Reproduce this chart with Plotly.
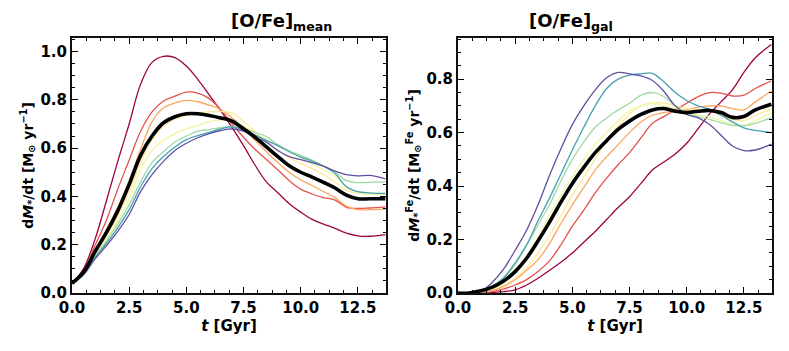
import plotly.graph_objects as go

# ---------------- data ----------------
t = [0, 0.5, 1, 1.5, 2, 2.5, 3, 3.5, 4, 4.5, 5, 5.5, 6, 6.5, 7, 7.5, 8, 8.5,
     9, 9.5, 10, 10.5, 11, 11.5, 12, 12.5, 13, 13.7]

colors = ["#9e0142", "#e2524a", "#fca55d", "#fee99a", "#edf8a3", "#a1d9a4", "#48a1b3", "#5e4fa2"]

# left panel: dM*/dt  ([O/Fe]_mean bins)
left_series = [
    [0.04, 0.10, 0.22, 0.38, 0.545, 0.70, 0.865, 0.955, 0.98, 0.975, 0.94, 0.885, 0.82, 0.755,
     0.685, 0.61, 0.53, 0.46, 0.415, 0.37, 0.335, 0.305, 0.285, 0.268, 0.248, 0.237, 0.235, 0.242],
    [0.04, 0.09, 0.195, 0.30, 0.43, 0.55, 0.67, 0.75, 0.795, 0.815, 0.832, 0.828, 0.805, 0.76,
     0.70, 0.645, 0.595, 0.553, 0.51, 0.465, 0.43, 0.41, 0.395, 0.385, 0.355, 0.35, 0.352, 0.357],
    [0.04, 0.085, 0.175, 0.26, 0.355, 0.465, 0.595, 0.71, 0.767, 0.787, 0.798, 0.792, 0.778, 0.76,
     0.725, 0.685, 0.632, 0.585, 0.54, 0.50, 0.468, 0.445, 0.42, 0.395, 0.36, 0.345, 0.345, 0.347],
    [0.04, 0.082, 0.16, 0.235, 0.32, 0.42, 0.54, 0.635, 0.69, 0.72, 0.735, 0.745, 0.75, 0.752,
     0.745, 0.71, 0.67, 0.625, 0.59, 0.56, 0.537, 0.515, 0.49, 0.46, 0.425, 0.413, 0.41, 0.41],
    [0.04, 0.08, 0.155, 0.225, 0.30, 0.39, 0.51, 0.59, 0.632, 0.66, 0.68, 0.695, 0.71, 0.717,
     0.715, 0.69, 0.665, 0.635, 0.61, 0.585, 0.56, 0.535, 0.51, 0.485, 0.44, 0.415, 0.41, 0.41],
    [0.04, 0.078, 0.15, 0.215, 0.285, 0.365, 0.46, 0.54, 0.585, 0.625, 0.65, 0.67, 0.677, 0.685,
     0.69, 0.68, 0.665, 0.648, 0.615, 0.59, 0.57, 0.55, 0.525, 0.50, 0.465, 0.457, 0.458, 0.46],
    [0.04, 0.077, 0.145, 0.205, 0.27, 0.345, 0.44, 0.515, 0.565, 0.605, 0.635, 0.652, 0.665, 0.68,
     0.688, 0.675, 0.655, 0.632, 0.61, 0.585, 0.563, 0.545, 0.525, 0.495, 0.44, 0.42, 0.415, 0.412],
    [0.04, 0.075, 0.14, 0.195, 0.255, 0.325, 0.42, 0.49, 0.545, 0.59, 0.62, 0.643, 0.66, 0.673,
     0.68, 0.67, 0.645, 0.625, 0.59, 0.565, 0.552, 0.54, 0.525, 0.505, 0.49, 0.485, 0.487, 0.473],
]
left_mean = [0.04, 0.085, 0.17, 0.25, 0.34, 0.45, 0.57, 0.65, 0.705, 0.73, 0.742, 0.742, 0.735, 0.725,
             0.712, 0.68, 0.645, 0.605, 0.565, 0.527, 0.50, 0.48, 0.458, 0.435, 0.405, 0.39, 0.39, 0.39]

# right panel: dM*^Fe/dt  ([O/Fe]_gal bins)
right_series = [
    [0, 0, 0, 0.002, 0.005, 0.012, 0.03, 0.055, 0.085, 0.115, 0.15, 0.19, 0.23, 0.275,
     0.32, 0.36, 0.41, 0.46, 0.49, 0.52, 0.56, 0.615, 0.67, 0.715, 0.76, 0.825, 0.88, 0.93],
    [0, 0, 0, 0.005, 0.015, 0.03, 0.05, 0.08, 0.12, 0.18, 0.25, 0.31, 0.375, 0.43,
     0.48, 0.525, 0.58, 0.635, 0.66, 0.685, 0.71, 0.735, 0.75, 0.748, 0.737, 0.74, 0.765, 0.793],
    [0, 0, 0.002, 0.01, 0.025, 0.05, 0.085, 0.125, 0.185, 0.26, 0.33, 0.395, 0.46, 0.51,
     0.555, 0.60, 0.64, 0.665, 0.675, 0.68, 0.685, 0.695, 0.70, 0.70, 0.69, 0.685, 0.715, 0.756],
    [0, 0, 0.005, 0.015, 0.03, 0.055, 0.095, 0.15, 0.215, 0.29, 0.365, 0.435, 0.50, 0.57,
     0.625, 0.67, 0.70, 0.712, 0.71, 0.70, 0.69, 0.685, 0.68, 0.665, 0.65, 0.645, 0.665, 0.688],
    [0, 0, 0.005, 0.02, 0.045, 0.09, 0.14, 0.21, 0.29, 0.365, 0.435, 0.50, 0.555, 0.60,
     0.645, 0.68, 0.70, 0.708, 0.70, 0.69, 0.675, 0.665, 0.66, 0.645, 0.632, 0.628, 0.645, 0.675],
    [0, 0, 0.005, 0.025, 0.06, 0.115, 0.18, 0.255, 0.33, 0.42, 0.50, 0.565, 0.62, 0.655,
     0.685, 0.71, 0.74, 0.75, 0.735, 0.70, 0.675, 0.66, 0.65, 0.637, 0.627, 0.625, 0.635, 0.656],
    [0, 0, 0.004, 0.025, 0.055, 0.11, 0.18, 0.27, 0.355, 0.445, 0.535, 0.62, 0.70, 0.765,
     0.80, 0.815, 0.82, 0.822, 0.79, 0.75, 0.72, 0.70, 0.687, 0.665, 0.64, 0.618, 0.608, 0.60],
    [0, 0, 0.006, 0.04, 0.09, 0.16, 0.235, 0.33, 0.44, 0.54, 0.63, 0.70, 0.76, 0.805,
     0.825, 0.82, 0.812, 0.795, 0.755, 0.70, 0.668, 0.655, 0.63, 0.59, 0.55, 0.533, 0.535, 0.557],
]
right_mean = [0, 0, 0.008, 0.022, 0.045, 0.08, 0.13, 0.195, 0.265, 0.34, 0.41, 0.47, 0.525, 0.57,
              0.612, 0.643, 0.668, 0.685, 0.69, 0.68, 0.675, 0.68, 0.683, 0.675, 0.657, 0.66, 0.685, 0.706]

titles = ["<b>[O/Fe]<sub>mean</sub></b>", "<b>[O/Fe]<sub>gal</sub></b>"]
ylabels = ["<b>d<i>M</i><sub>*</sub>/dt [M<sub>⊙</sub> yr<sup>−1</sup>]</b>",
           "<b>d<i>M</i><sub>*</sub><sup>Fe</sup>/dt [M<sub>⊙</sub><sup>Fe</sup> yr<sup>−1</sup>]</b>"]
xlabel = "<b><i>t</i> [Gyr]</b>"
x_ticks = [0, 2.5, 5, 7.5, 10, 12.5]
x_ticklabels = ["0.0", "2.5", "5.0", "7.5", "10.0", "12.5"]

# ---------------- figure ----------------
OFF = 8                       # page body margin of the browser
W, H = 789 - OFF, 351 - OFF
FONT = "DejaVu Sans"
fig = go.Figure()

for i, (series, mean) in enumerate([(left_series, left_mean), (right_series, right_mean)]):
    xa = "x" if i == 0 else "x2"
    ya = "y" if i == 0 else "y2"
    for c, s in zip(colors, series):
        fig.add_trace(go.Scatter(x=t, y=s, mode="lines", xaxis=xa, yaxis=ya,
                                 line=dict(color=c, width=1.3, shape="spline"),
                                 showlegend=False, hoverinfo="skip"))
    fig.add_trace(go.Scatter(x=t, y=mean, mode="lines", xaxis=xa, yaxis=ya,
                             line=dict(color="black", width=3.6, shape="spline"),
                             showlegend=False, hoverinfo="skip"))

def px_x(p):
    return (p - OFF) / W

def px_y(p):
    return 1 - (p - OFF) / H

dom_x = [[px_x(72), px_x(386)], [px_x(458), px_x(772)]]
dom_y = [px_y(293), px_y(38)]
yranges = [[0, 1.056], [0, 0.954]]

tickfont = dict(family=FONT, size=15, color="black", weight="bold")
common_axis = dict(showline=True, linecolor="#111111", linewidth=2, mirror="allticks",
                   ticks="inside", ticklen=6, tickwidth=1.3, tickcolor="black",
                   showgrid=False, zeroline=False, tickfont=tickfont, automargin=False)

for i in range(2):
    sfx = "" if i == 0 else "2"
    fig.layout["xaxis" + sfx] = dict(
        domain=dom_x[i], range=[0, 13.73], anchor="y" + sfx,
        tickvals=x_ticks, ticktext=x_ticklabels,
        minor=dict(dtick=0.625, tick0=0, ticks="inside", ticklen=3, tickwidth=1, tickcolor="black"),
        title=dict(text=xlabel, font=dict(family=FONT, size=15, color="black"), standoff=0),
        **common_axis)
    fig.layout["yaxis" + sfx] = dict(
        domain=dom_y, range=yranges[i], anchor="x" + sfx,
        dtick=0.2, tick0=0, tickformat=".1f",
        minor=dict(dtick=0.05, tick0=0, ticks="inside", ticklen=3, tickwidth=1, tickcolor="black"),
        title=dict(text=ylabels[i], font=dict(family=FONT, size=14, color="black"), standoff=4),
        **common_axis)
    fig.add_annotation(text=titles[i], xref="paper", yref="paper",
                       x=(dom_x[i][0] + dom_x[i][1]) / 2, y=dom_y[1], yanchor="bottom",
                       yshift=2, showarrow=False,
                       font=dict(family=FONT, size=18, color="black"))

fig.update_layout(width=W, height=H, margin=dict(l=0, r=0, t=0, b=0),
                  plot_bgcolor="white", paper_bgcolor="white",
                  font=dict(family=FONT, color="black"))

fig.write_html("out.html")
